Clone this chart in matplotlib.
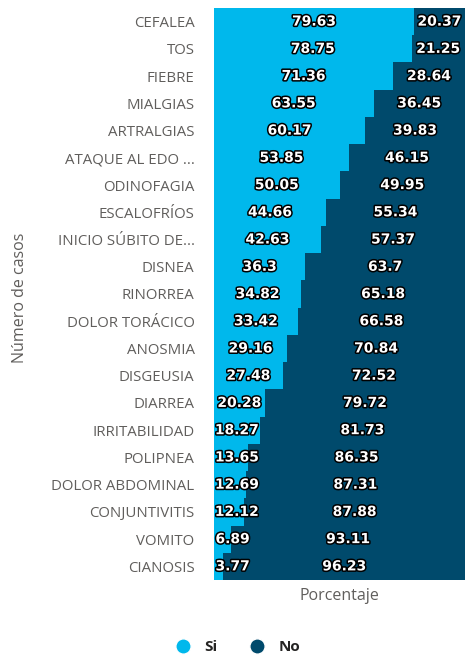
import numpy as np
import matplotlib.pyplot as plt
import matplotlib.patheffects as pe
from matplotlib.lines import Line2D

sintomas = ["CEFALEA", "TOS", "FIEBRE", "MIALGIAS", "ARTRALGIAS", "ATAQUE AL EDO ...",
            "ODINOFAGIA", "ESCALOFRÍOS", "INICIO SÚBITO DE...", "DISNEA", "RINORREA",
            "DOLOR TORÁCICO", "ANOSMIA", "DISGEUSIA", "DIARREA", "IRRITABILIDAD",
            "POLIPNEA", "DOLOR ABDOMINAL", "CONJUNTIVITIS", "VOMITO", "CIANOSIS"]
si = [79.63, 78.75, 71.36, 63.55, 60.17, 53.85, 50.05, 44.66, 42.63, 36.3, 34.82,
      33.42, 29.16, 27.48, 20.28, 18.27, 13.65, 12.69, 12.12, 6.89, 3.77]
no = [20.37, 21.25, 28.64, 36.45, 39.83, 46.15, 49.95, 55.34, 57.37, 63.7, 65.18,
      66.58, 70.84, 72.52, 79.72, 81.73, 86.35, 87.31, 87.88, 93.11, 96.23]

cSi = "#00B8EC"
cNo = "#004A6C"
gris = "#605E5C"

plt.rcParams['font.family'] = ['Open Sans', 'DejaVu Sans']

fig = plt.figure(figsize=(4.65, 6.59), dpi=100)
ax = fig.add_axes([214/465, 1 - 580/659, 1 - 214/465, 572/659])

y = np.arange(len(sintomas))
ax.barh(y, si, height=1.0, color=cSi, linewidth=0)
ax.barh(y, no, left=si, height=1.0, color=cNo, linewidth=0)

# etiquetas: las que no caben se corren para que no salgan del area
efecto = [pe.withStroke(linewidth=2.2, foreground="black")]
for i in range(len(sintomas)):
    xs = max(si[i] / 2, 0.4 + 1.75 * len(str(si[i])))
    ax.text(xs, y[i], str(si[i]), ha="center", va="center", color="white",
            fontsize=10, fontweight="bold", family="DejaVu Sans", path_effects=efecto)
    ax.text(si[i] + no[i] / 2, y[i], str(no[i]), ha="center", va="center", color="white",
            fontsize=10, fontweight="bold", family="DejaVu Sans", path_effects=efecto)

ax.set_xlim(0, 100)
ax.set_ylim(len(sintomas) - 0.5, -0.5)
ax.set_yticks(y)
ax.set_yticklabels(sintomas, fontsize=10.8, color=gris)
ax.tick_params(axis="y", length=0, pad=14)
ax.set_xticks([])
for s in ax.spines.values():
    s.set_visible(False)

ax.set_xlabel("Porcentaje", fontsize=11.5, color=gris, labelpad=6)
fig.text(20/465, 1 - 298/659, "Número de casos", rotation=90, ha="center", va="center",
         fontsize=11.5, color=gris)

handles = [Line2D([0], [0], marker="o", color="w", markerfacecolor=cSi, markersize=11, label="Si"),
           Line2D([0], [0], marker="o", color="w", markerfacecolor=cNo, markersize=11, label="No")]
leg = fig.legend(handles=handles, loc="center", bbox_to_anchor=(234/465, 1 - 647/659), ncol=2,
                 frameon=False, fontsize=11, handletextpad=0.4, columnspacing=1.6)
for t in leg.get_texts():
    t.set_fontweight("bold")
    t.set_color("#252423")

fig.savefig("out.png", dpi=100)
